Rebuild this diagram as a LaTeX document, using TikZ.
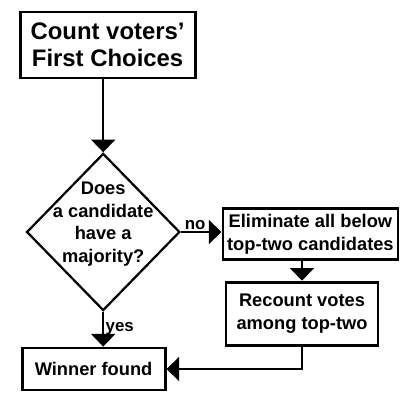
\documentclass[tikz,border=0pt]{standalone}
\usepackage{fontspec}
\setmainfont{Liberation Sans}
\usetikzlibrary{arrows.meta,positioning,shapes.geometric}

\begin{document}
\begin{tikzpicture}[
    box/.style={draw,line width=2pt,align=center,inner sep=0pt,
      font=\fontsize{13}{16}\selectfont\bfseries},
    dia/.style={draw,diamond,line width=1.6pt,inner sep=0pt,
      minimum width=3.83cm,minimum height=3.93cm},
    flow/.style={line width=1.6pt,-{Triangle[length=9pt,width=17pt]}},
    lbl/.style={font=\fontsize{12}{14}\selectfont\bfseries,inner sep=1pt}
  ]
  \useasboundingbox (0,0) rectangle (10,9.9);
  % Boxes
  \node[box,minimum width=4.375cm,minimum height=1.65cm,
    font=\fontsize{17}{19}\selectfont\bfseries] (count) at (2.69,8.775)
    {Count voters'\\First Choices};
  \node[dia] (dec) at (2.58,4.1) {};
  \node[align=center,inner sep=0pt,font=\fontsize{13}{16}\selectfont\bfseries]
    (dectext) at ([yshift=0.2cm]dec.center) {Does\\a candidate\\have a\\majority?};
  \node[box,minimum width=4.375cm,minimum height=1.275cm] (elim) at (7.76,4.04)
    {Eliminate all below\\top-two candidates};
  \node[box,minimum width=3.8cm,minimum height=1.575cm] (recount) at (7.55,2.06)
    {Recount votes\\among top-two};
  \node[box,minimum width=3.575cm,minimum height=1.05cm] (winner) at (2.34,0.675)
    {Winner found};
  % Connectors
  \draw[flow] (count.south -| dec.north) -- (dec.north);
  \draw[flow] (dec.east) -- (elim.west |- dec.east)
    node[lbl,pos=0.35,above] {no};
  \draw[flow] (dec.south) -- (winner.north -| dec.south)
    node[lbl,midway,right] {yes};
  \draw[flow] (elim.south -| recount.north) -- (recount.north);
  \draw[flow] (recount.south) |- (winner.east);
\end{tikzpicture}
\end{document}
